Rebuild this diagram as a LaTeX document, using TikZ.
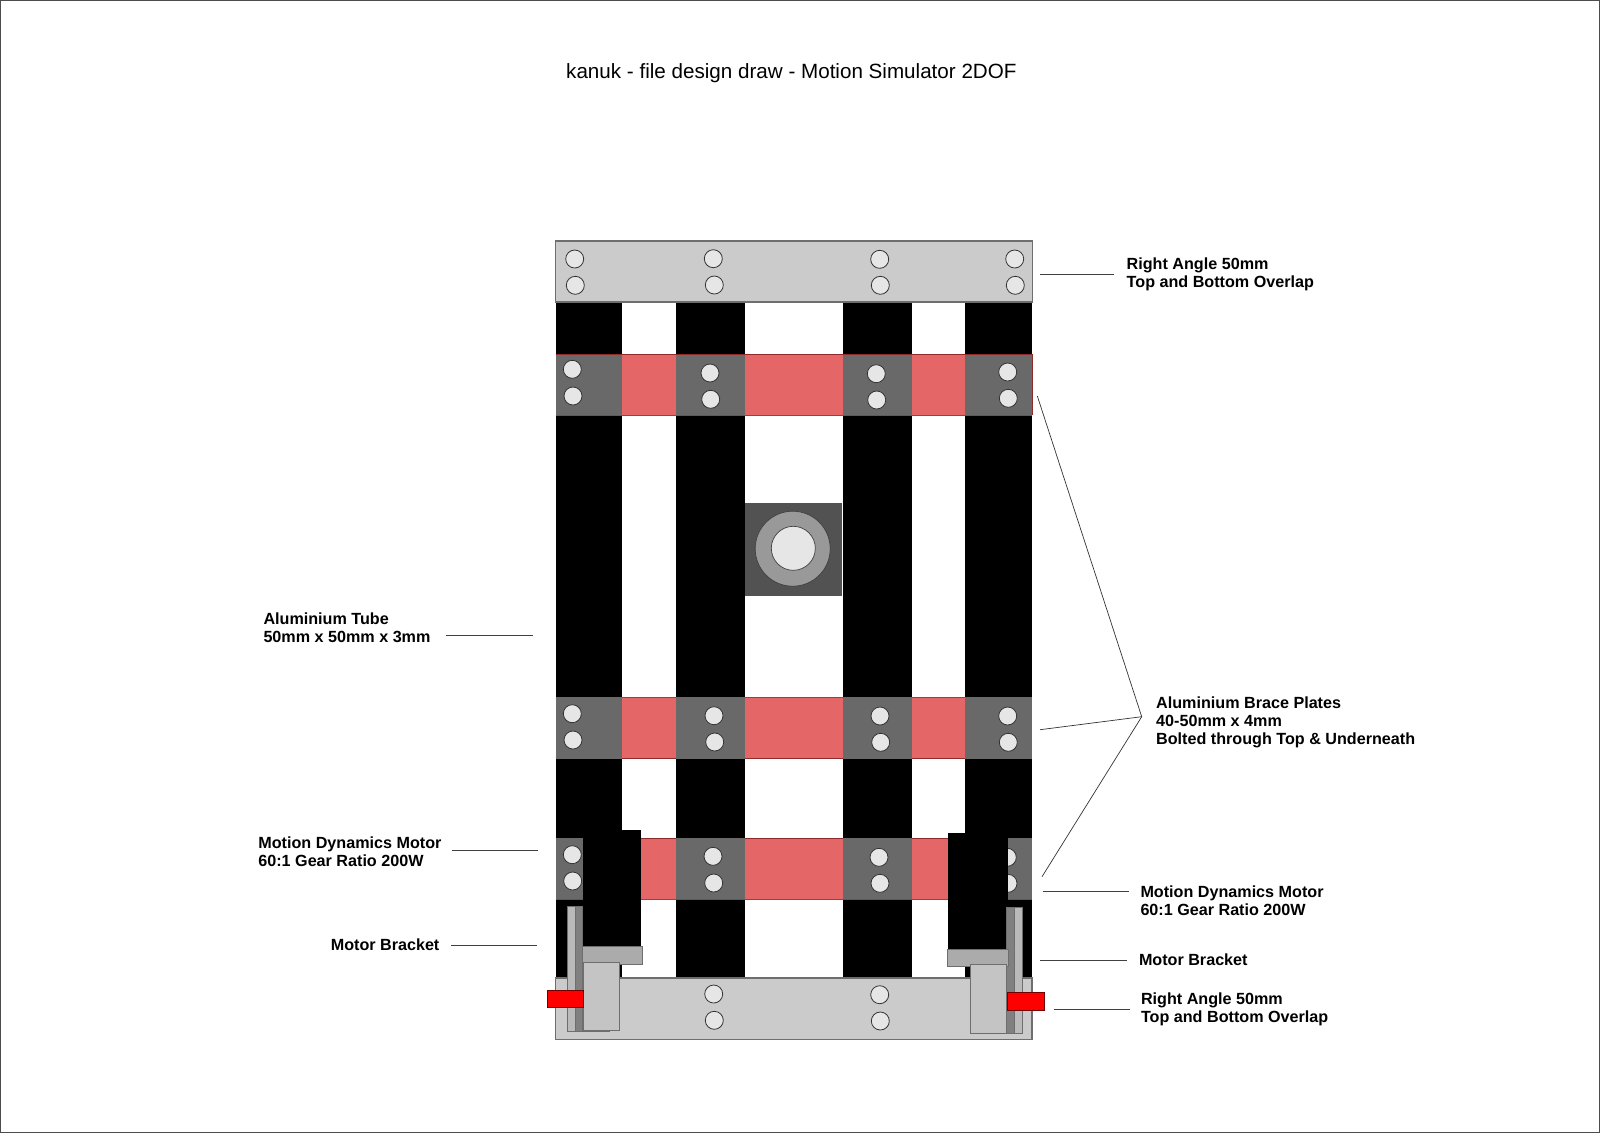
\documentclass[tikz,border=0pt]{standalone}
\usepackage{fontspec}
\setmainfont{Liberation Sans}
\definecolor{brace}{HTML}{E56666}
\definecolor{bracedge}{HTML}{8E2A2A}
\definecolor{plate}{HTML}{696969}
\definecolor{bar}{HTML}{CBCBCB}
\definecolor{hole}{HTML}{E6E6E6}
\definecolor{edge}{HTML}{6E6E6E}
\tikzset{
  tube/.style={fill=black,draw=none},
  barplate/.style={fill=bar,draw=edge,line width=1.1pt},
  redplate/.style={fill=brace,draw=none},
  greyblock/.style={fill=plate,draw=none},
  bolt/.style={circle,fill=hole,draw=black!80,line width=0.8pt,minimum size=18pt,inner sep=0pt},
  motor/.style={fill=black,draw=none},
  bracktop/.style={fill=black!33,draw=edge,line width=0.8pt},
  brackblock/.style={fill=black!23,draw=edge,line width=0.8pt},
  bracklight/.style={fill=black!27,draw=edge,line width=0.6pt},
  brackdark/.style={fill=black!50,draw=edge,line width=0.6pt},
  tab/.style={fill=red,draw=black!55!red,line width=0.7pt},
  lbl/.style={anchor=west,align=left,inner sep=0pt,font=\fontsize{16.15}{18}\selectfont\bfseries},
  leader/.style={draw=black!75,line width=0.8pt},
  thinleader/.style={draw=black!80,line width=0.7pt}
}
\newcommand{\boltat}[2]{\node[bolt] at (#1,#2) {};}
\begin{document}
\begin{tikzpicture}[x=1pt,y=-1pt]
\useasboundingbox (0,0) rectangle (1600,1133);
\fill[white] (0,0) rectangle (1600,1133);
\draw[black!70,line width=1pt] (0.5,0.5) rectangle (1599.5,1132.5);
% tubes
\fill[tube] (555.7,302) rectangle (622,978);
\fill[tube] (675.7,302) rectangle (745,978);
\fill[tube] (843,302) rectangle (912.3,978);
\fill[tube] (965,302) rectangle (1031.7,978);
% top bar
\path[barplate] (555.7,241) rectangle (1032.3,302);
\draw[edge,line width=0.8pt] (965,240.5) -- (1032.3,240.5);
\foreach \a/\b in {574.7/259,575.3/285.3,713.3/258.7,714.3/285,879.7/259.3,880.3/285.3,1014.7/259,1015.3/285.3}{\boltat{\a}{\b}}
% brace plates
\foreach \t/\u in {354.7/415.3,697.3/758.7,838.3/899.3}{
  \path[redplate] (555.7,\t) rectangle (1032,\u);
}
\draw[bracedge,line width=0.7pt] (555.7,354.7) -- (1032,354.7) -- (1032,415.3);
\draw[black!35!brace,line width=0.7pt] (555.7,415.3) -- (1032,415.3);
\draw[bracedge,line width=0.9pt] (555.7,758.7) -- (1032,758.7);
\draw[black!35!brace,line width=0.7pt] (555.7,697.3) -- (1032,697.3);
\draw[bracedge,line width=0.7pt] (555.7,838.3) -- (1032,838.3);
\draw[black!35!brace,line width=0.7pt] (555.7,899.3) -- (1032,899.3);
\foreach \t/\u in {354.7/415.3,697.3/758.7,838.3/899.3}{
  \fill[greyblock] (555.7,\t) rectangle (622,\u);
  \fill[greyblock] (675.7,\t) rectangle (745,\u);
  \fill[greyblock] (843,\t) rectangle (912.3,\u);
  \fill[greyblock] (965,\t) rectangle (1032,\u);
}
\foreach \a/\b in {572.3/369.3,573/396,710/373,710.7/399.3,876.3/373.7,876.7/400,1007.7/372,1008.3/398.3,
  572.3/713.7,573/740,714/715.7,714.7/742,880/716,880.7/742.3,1007.7/716,1008.3/742.3,
  572.3/854.7,572.7/881,713/856.3,713.7/883,879/857.3,880/883.3,1007.3/857.3,1008/883.3}{\boltat{\a}{\b}}
% centre pivot
\fill[black!68,draw=none] (745.3,502.7) rectangle (842.3,595.7);
\fill[black!40,draw=black!75,line width=0.7pt] (792.7,548.7) circle (37.5);
\fill[hole,draw=black!75,line width=0.7pt] (793.3,548.3) circle (22);
% bottom bar
\path[barplate] (555.3,978) rectangle (1032,1039.3);
\foreach \a/\b in {713.7/994,714.3/1020.3,879.7/994.7,880.3/1021}{\boltat{\a}{\b}}
% left motor
\fill[motor] (582.7,830.3) rectangle (641.3,946.7);
\path[bracklight] (567,906) rectangle (574.8,1031.7);
\path[brackdark] (574.8,906) rectangle (582.7,1031.7);
\draw[edge,line width=0.6pt] (567,1031.7) -- (610,1031.7);
\path[bracktop] (582.3,946.7) rectangle (642.3,964);
\path[brackblock] (583.7,962.3) rectangle (619.7,1030.7);
\path[tab] (547,990.3) rectangle (583.7,1007.7);
% right motor
\fill[motor] (947.7,833.3) rectangle (1008,949);
\path[brackdark] (1006.7,907.7) rectangle (1014.5,1033.3);
\path[bracklight] (1014.5,907.7) rectangle (1022,1033.3);
\path[bracktop] (947,949) rectangle (1008.7,966.3);
\path[brackblock] (970,964.7) rectangle (1006.7,1033.3);
\path[tab] (1007,992.7) rectangle (1044.7,1010.3);
% title
\node[anchor=west,inner sep=0pt,font=\fontsize{20.62}{24}\selectfont] (title) at (566,72.7) {kanuk - file design draw - Motion Simulator 2DOF};
% labels
\node[lbl] (ratop) at (1126.5,274.5) {Right Angle 50mm\\Top and Bottom Overlap};
\node[lbl] (brace) at (1156,722.5) {Aluminium Brace Plates\\40-50mm x 4mm\\Bolted through Top \& Underneath};
\node[lbl] (motr) at (1140.3,901) {Motion Dynamics Motor\\60:1 Gear Ratio 200W};
\node[lbl] (bkr) at (1138.8,959.7) {Motor Bracket};
\node[lbl] (rabot) at (1140.8,1009) {Right Angle 50mm\\Top and Bottom Overlap};
\node[lbl] (tube) at (263.3,628.2) {Aluminium Tube\\50mm x 50mm x 3mm};
\node[lbl] (motl) at (258.2,852) {Motion Dynamics Motor\\60:1 Gear Ratio 200W};
\node[lbl] (bkl) at (330.6,945.2) {Motor Bracket};
% leaders
\coordinate (apex) at (1141.7,716.7);
\coordinate (a1) at (1037.3,396);
\coordinate (a2) at (1040,729.7);
\coordinate (a3) at (1042,876.7);
\draw[thinleader] (a1) -- (apex) -- (a2);
\draw[thinleader] (apex) -- (a3);
\coordinate (t1) at (1040,274); \coordinate (t2) at (1114,274);
\draw[leader] (t1) -- (t2);
\coordinate (m1) at (1042.7,891.3); \coordinate (m2) at (1129,891.3);
\draw[leader] (m1) -- (m2);
\coordinate (b1) at (1040,960); \coordinate (b2) at (1126.5,960);
\draw[leader] (b1) -- (b2);
\coordinate (r1) at (1054,1009.3); \coordinate (r2) at (1129.6,1009.3);
\draw[leader] (r1) -- (r2);
\coordinate (l1) at (446,635); \coordinate (l2) at (532.7,635);
\draw[leader] (l1) -- (l2);
\coordinate (l3) at (452,850.3); \coordinate (l4) at (537.7,850.3);
\draw[leader] (l3) -- (l4);
\coordinate (l5) at (451,945.7); \coordinate (l6) at (537,945.7);
\draw[leader] (l5) -- (l6);
\end{tikzpicture}
\end{document}
